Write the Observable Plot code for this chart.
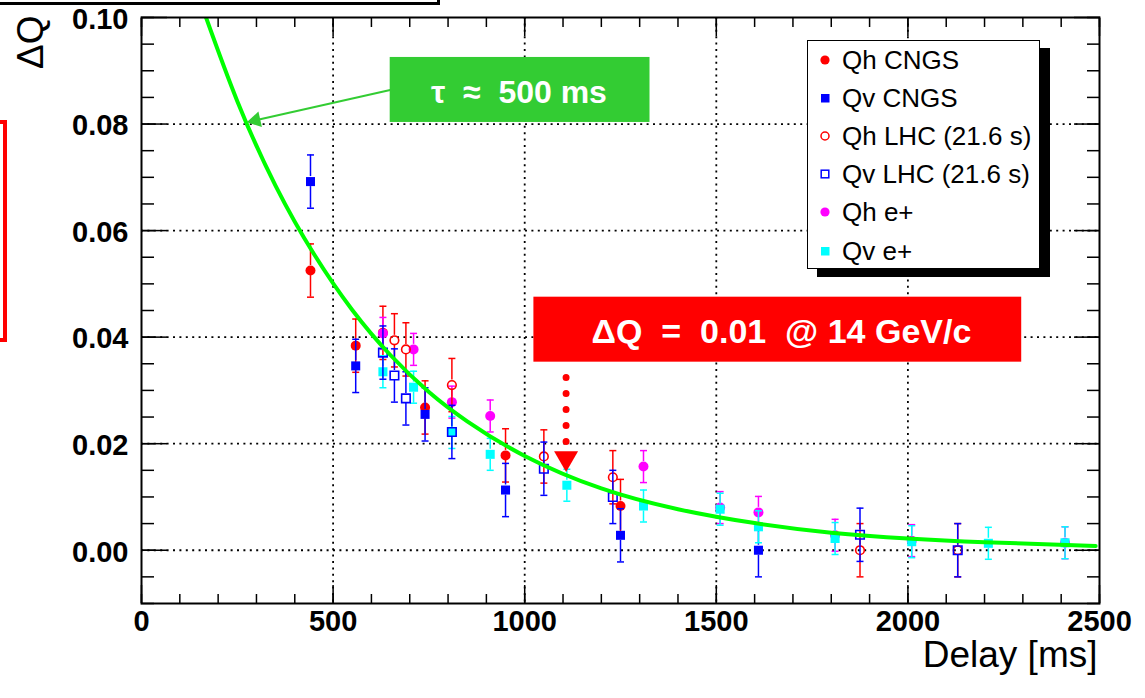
<!DOCTYPE html>
<html lang="en">
<head>
<meta charset="utf-8">
<title>ΔQ vs Delay</title>
<script src="https://cdn.jsdelivr.net/npm/d3@7"></script>
<script src="https://cdn.jsdelivr.net/npm/@observablehq/plot@0.6"></script>
<style>
  html, body { margin:0; padding:0; background:#fff; }
  #wrap { position:relative; width:1145px; height:698px; overflow:hidden; font-family:"Liberation Sans", Arial, Helvetica, sans-serif; }
  #wrap > svg { position:absolute; left:0; top:0; }
  .cut-title { position:absolute; left:-10px; top:-58px; width:444px; height:57px; border:3px solid #000; background:#fff; }
  .cut-red { position:absolute; left:-50px; top:120px; width:49px; height:214px; border:4px solid #ff0000; }
  #legend { position:absolute; left:807px; top:40px; width:231px; height:227px; border:1.5px solid #000; background:#fff; box-shadow:10px 8px 0 #000; }
  .lg-row { position:absolute; left:0; height:30px; width:230px; }
  .lg-row svg { position:absolute; left:9px; top:7px; }
  .lg-row span { position:absolute; left:34px; top:0; line-height:30px; font-size:26px; color:#000; white-space:nowrap; }
</style>
</head>
<body>
<div id="wrap">
  <div class="cut-title"></div>
  <div class="cut-red"></div>
</div>
<script>
// ---------- series definitions ----------
const seriesNames   = ["Qh CNGS", "Qv CNGS", "Qh LHC (21.6 s)", "Qv LHC (21.6 s)", "Qh e+", "Qv e+"];
const seriesColors  = ["#ff0000", "#0000ff", "#ff0000", "#0000ff", "#ff00ff", "#00ffff"];
const seriesSymbols = ["circle", "square", "circle", "square", "circle", "square"];
const seriesFilled  = [true, true, false, false, true, true];
const drawOrder     = [0, 1, 4, 5, 2, 3];

// ---------- data (delay in ms, ΔQ, error) ----------
const qhCngsDelay = [441, 559, 630, 740, 950, 1250];
const qhCngsDQ    = [0.0525, 0.0384, 0.0408, 0.0268, 0.0178, 0.0083];
const qhCngsErr   = [0.0050, 0.0050, 0.0050, 0.0050, 0.0050, 0.0050];

const qvCngsDelay = [441, 559, 740, 950, 1250, 1610];
const qvCngsDQ    = [0.0692, 0.0346, 0.0255, 0.0113, 0.0028, 0.0000];
const qvCngsErr   = [0.0050, 0.0050, 0.0050, 0.0050, 0.0050, 0.0050];

const qhLhcDelay = [660, 690, 810, 1050, 1230, 1875, 2130];
const qhLhcDQ    = [0.0394, 0.0377, 0.0310, 0.0176, 0.0137, 0.0000, 0.0000];
const qhLhcErr   = [0.0050, 0.0050, 0.0050, 0.0050, 0.0050, 0.0050, 0.0050];

const qvLhcDelay = [630, 660, 690, 810, 1050, 1230, 1875, 2130];
const qvLhcDQ    = [0.0371, 0.0328, 0.0285, 0.0222, 0.0153, 0.0100, 0.0029, 0.0000];
const qvLhcErr   = [0.0050, 0.0050, 0.0050, 0.0050, 0.0050, 0.0050, 0.0050, 0.0050];

const qhEDelay = [630, 710, 810, 910, 1310, 1510, 1610, 1810, 2010, 2410];
const qhEDQ    = [0.0407, 0.0377, 0.0278, 0.0252, 0.0157, 0.0080, 0.0071, 0.0028, 0.0018, 0.0014];
const qhEErr   = [0.0030, 0.0030, 0.0030, 0.0030, 0.0030, 0.0030, 0.0030, 0.0030, 0.0030, 0.0030];

const qvEDelay = [630, 710, 810, 910, 1110, 1310, 1510, 1610, 1810, 2010, 2210, 2410];
const qvEDQ    = [0.0335, 0.0306, 0.0221, 0.0180, 0.0122, 0.0083, 0.0077, 0.0044, 0.0022, 0.0016, 0.0013, 0.0014];
const qvEErr   = [0.0030, 0.0030, 0.0030, 0.0030, 0.0030, 0.0030, 0.0030, 0.0030, 0.0030, 0.0030, 0.0030, 0.0030];

// fitted curve (τ ≈ 500 ms)
const fitDelay = [160, 250, 350, 450, 550, 650, 750, 850, 1000, 1200, 1400, 1600, 1800, 2000, 2200, 2490];
const fitDQ    = [0.1017, 0.0843, 0.0684, 0.0556, 0.0451, 0.0366, 0.0297, 0.0242, 0.0177, 0.0116, 0.0077, 0.0051, 0.0033, 0.0022, 0.0015, 0.0008];

// ---------- axes ----------
const xLabelTicks = [0, 500, 1000, 1500, 2000, 2500];
const xGridTicks  = [500, 1000, 1500, 2000];
const yLabelTicks = [0, 0.02, 0.04, 0.06, 0.08, 0.10];
const yGridTicks  = [0, 0.02, 0.04, 0.06, 0.08];
const xMinorTicks = d3.range(0, 26).map(i => i * 100);
const yMinorTicks = d3.range(-2, 21).map(i => +(i * 0.005).toFixed(3));

// ---------- annotations (data coordinates) ----------
const tauText   = ["τ\u00a0\u00a0≈\u00a0\u00a0500\u00a0ms"];
const tauBox    = [{x1: 649, x2: 1327, y1: 0.0803, y2: 0.0925}];
const tauTextAt = [{x: 985, y: 0.0858}];
const tauArrow  = [{x1: 649, y1: 0.0864, x2: 298, y2: 0.0807}];
const dqText    = ["ΔQ\u00a0\u00a0=\u00a0\u00a00.01\u00a0\u00a0@ 14 GeV/c"];
const dqBox     = [{x1: 1024, x2: 2297, y1: 0.0353, y2: 0.0475}];
const dqTextAt  = [{x: 1670, y: 0.0410}];
const dqPointer = [{x: 1108, y1: 0.0203, y2: 0.0353, tip: 0.0173}];

// ---------- build tables ----------
const rowsFor = (xs, ys, es) => xs.map((x, i) => ({delay: x, dq: ys[i], err: es[i]}));
const seriesData = [
  rowsFor(qhCngsDelay, qhCngsDQ, qhCngsErr),
  rowsFor(qvCngsDelay, qvCngsDQ, qvCngsErr),
  rowsFor(qhLhcDelay, qhLhcDQ, qhLhcErr),
  rowsFor(qvLhcDelay, qvLhcDQ, qvLhcErr),
  rowsFor(qhEDelay, qhEDQ, qhEErr),
  rowsFor(qvEDelay, qvEDQ, qvEErr)
];
const fitRows = fitDelay.map((x, i) => ({delay: x, dq: fitDQ[i]}));

const capSymbol = {
  draw(context, size) {
    const w = Math.sqrt(size / Math.PI);
    context.moveTo(-w, 0);
    context.lineTo(w, 0);
  }
};

const FONT = "'Liberation Sans', Arial, Helvetica, sans-serif";
const gridStyle = {stroke: "#000", strokeOpacity: 1, strokeWidth: 1.8, strokeDasharray: "2,4.4"};

const marks = [
  Plot.gridX({ticks: xGridTicks, ...gridStyle}),
  Plot.gridY({ticks: yGridTicks, ...gridStyle}),
  // inward ticks
  Plot.axisX({ticks: xMinorTicks, anchor: "bottom", tickSize: -9, fill: "none", label: null, strokeWidth: 1.5}),
  Plot.axisX({ticks: xLabelTicks, anchor: "bottom", tickSize: -18, fill: "none", label: null, strokeWidth: 1.5}),
  Plot.axisX({ticks: xMinorTicks, anchor: "top", tickSize: -9, fill: "none", label: null, strokeWidth: 1.5}),
  Plot.axisX({ticks: xLabelTicks, anchor: "top", tickSize: -18, fill: "none", label: null, strokeWidth: 1.5}),
  Plot.axisY({ticks: yMinorTicks, anchor: "left", tickSize: -13, fill: "none", label: null, strokeWidth: 1.5}),
  Plot.axisY({ticks: yLabelTicks, anchor: "left", tickSize: -26, fill: "none", label: null, strokeWidth: 1.5}),
  Plot.axisY({ticks: yMinorTicks, anchor: "right", tickSize: -13, fill: "none", label: null, strokeWidth: 1.5}),
  Plot.axisY({ticks: yLabelTicks, anchor: "right", tickSize: -26, fill: "none", label: null, strokeWidth: 1.5}),
  // tick labels
  Plot.axisX({ticks: xLabelTicks, anchor: "bottom", tickSize: 0, tickPadding: 7, stroke: "none", label: null,
    tickFormat: "d", fontSize: 29, fontWeight: "bold", fill: "#000"}),
  Plot.axisY({ticks: yLabelTicks, anchor: "left", tickSize: 0, tickPadding: 13, stroke: "none", label: null,
    tickFormat: ".2f", fontSize: 29, fontWeight: "bold", fill: "#000", dy: 2})
];

for (const i of drawOrder) {
  const c = seriesColors[i];
  const rows = seriesData[i];
  const sym = seriesSymbols[i];
  const filled = seriesFilled[i];
  marks.push(
    Plot.ruleX(rows, {x: "delay", y1: d => d.dq + d.err, y2: "dq", insetBottom: 5, stroke: c, strokeWidth: 1.5}),
    Plot.ruleX(rows, {x: "delay", y1: "dq", y2: d => d.dq - d.err, insetTop: 5, stroke: c, strokeWidth: 1.5}),
    Plot.dot(rows, {x: "delay", y: d => d.dq + d.err, symbol: capSymbol, r: 3.5, fill: "none", stroke: c, strokeWidth: 1.5}),
    Plot.dot(rows, {x: "delay", y: d => d.dq - d.err, symbol: capSymbol, r: 3.5, fill: "none", stroke: c, strokeWidth: 1.5}),
    filled
      ? Plot.dot(rows, {x: "delay", y: "dq", symbol: sym, r: sym === "circle" ? 5 : 5.1, fill: c, stroke: "none"})
      : Plot.dot(rows, {x: "delay", y: "dq", symbol: sym, r: sym === "circle" ? 4.3 : 4.8, fill: "none", stroke: c, strokeWidth: 1.6})
  );
}

marks.push(
  Plot.line(fitRows, {x: "delay", y: "dq", stroke: "#00ff00", strokeWidth: 4, curve: "natural", clip: true}),
  // τ annotation
  Plot.rect(tauBox, {x1: "x1", x2: "x2", y1: "y1", y2: "y2", fill: "#33cc33"}),
  Plot.text(tauTextAt, {x: "x", y: "y", text: () => tauText[0], fill: "#fff", fontSize: 32, fontWeight: "bold"}),
  Plot.link(tauArrow, {x1: "x1", y1: "y1", x2: "x2", y2: "y2", stroke: "#33cc33", strokeWidth: 2}),
  Plot.dot(tauArrow, {x: "x2", y: "y2", symbol: "triangle", r: 5.9, rotate: -102.7, fill: "#33cc33", stroke: "none"}),
  // ΔQ annotation
  Plot.rect(dqBox, {x1: "x1", x2: "x2", y1: "y1", y2: "y2", fill: "#ff0000"}),
  Plot.text(dqTextAt, {x: "x", y: "y", text: () => dqText[0], fill: "#fff", fontSize: 34, fontWeight: "bold"}),
  Plot.ruleX(dqPointer, {x: "x", y1: "y1", y2: "y2", stroke: "#ff0000", strokeWidth: 7, strokeLinecap: "round", strokeDasharray: "0,16"}),
  Plot.dot(dqPointer, {x: "x", y: "tip", symbol: "triangle", r: 8.9, rotate: 180, fill: "#ff0000", stroke: "none"}),
  // frame & titles
  Plot.frame({stroke: "#000", strokeWidth: 2}),
  Plot.text(["Delay [ms]"], {frameAnchor: "bottom-right", text: d => d, textAnchor: "end", lineAnchor: "middle", dx: -2, dy: 52, fontSize: 37, fill: "#000"}),
  Plot.text(["ΔQ"], {frameAnchor: "top-left", text: d => d, textAnchor: "end", lineAnchor: "middle", rotate: -90, dx: -110, dy: -2, fontSize: 37, fill: "#000"})
);

const chart = Plot.plot({
  width: 1145,
  height: 698,
  marginLeft: 141,
  marginRight: 46,
  marginTop: 17,
  marginBottom: 95,
  x: {domain: [0, 2500]},
  y: {domain: [-0.01, 0.10]},
  style: {fontFamily: FONT, background: "transparent", color: "#000", overflow: "visible"},
  marks
});

const wrap = document.getElementById("wrap");
wrap.insertBefore(chart, wrap.firstChild);

// ---------- legend ----------
const legend = document.createElement("div");
legend.id = "legend";
seriesNames.forEach((name, i) => {
  const row = document.createElement("div");
  row.className = "lg-row";
  row.style.top = (3.5 + i * 38.2) + "px";
  const c = seriesColors[i];
  let shape;
  if (seriesSymbols[i] === "circle") {
    shape = seriesFilled[i]
      ? `<circle cx="8" cy="8" r="4.6" fill="${c}"/>`
      : `<circle cx="8" cy="8" r="4" fill="none" stroke="${c}" stroke-width="1.5"/>`;
  } else {
    shape = seriesFilled[i]
      ? `<rect x="4" y="4" width="8.5" height="8.5" fill="${c}"/>`
      : `<rect x="4.2" y="4.2" width="7.6" height="7.6" fill="none" stroke="${c}" stroke-width="1.5"/>`;
  }
  row.innerHTML = `<svg width="16" height="16" viewBox="0 0 16 16">${shape}</svg><span>${name}</span>`;
  legend.appendChild(row);
});
wrap.appendChild(legend);
</script>
</body>
</html>
